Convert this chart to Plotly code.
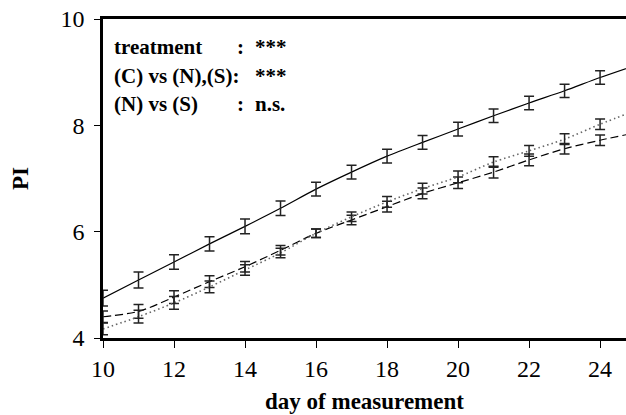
import plotly.graph_objects as go

# ---- data ----
days = [10, 11, 12, 13, 14, 15, 16, 17, 18, 19, 20, 21, 22, 23, 24]
pi_c = [4.75, 5.09, 5.43, 5.77, 6.10, 6.44, 6.80, 7.12, 7.42, 7.68, 7.93, 8.18, 8.42, 8.65, 8.90]
pi_n = [4.40, 4.50, 4.77, 5.06, 5.34, 5.65, 5.97, 6.22, 6.47, 6.72, 6.92, 7.12, 7.35, 7.56, 7.72]
pi_s = [4.17, 4.40, 4.66, 4.96, 5.28, 5.60, 5.97, 6.28, 6.56, 6.81, 7.03, 7.31, 7.52, 7.74, 8.02]
err_c = [0.15, 0.15, 0.135, 0.135, 0.14, 0.135, 0.13, 0.13, 0.13, 0.13, 0.13, 0.125, 0.125, 0.125, 0.125]
err_n = [0.11, 0.13, 0.12, 0.11, 0.10, 0.09, 0.08, 0.09, 0.10, 0.10, 0.11, 0.11, 0.11, 0.10, 0.10]
err_s = [0.11, 0.12, 0.12, 0.11, 0.10, 0.09, 0.08, 0.09, 0.10, 0.10, 0.11, 0.10, 0.10, 0.10, 0.10]
# fitted curves continue past the last measurement day
curve_end_day = 25
curve_end_c = 9.13
curve_end_n = 7.86
curve_end_s = 8.28

x_ticks = [10, 12, 14, 16, 18, 20, 22, 24]
y_ticks = [4, 6, 8, 10]

stats_labels = ["treatment", "(C) vs (N),(S):", "(N) vs (S)"]
stats_colons = [":", "", ":"]
stats_values = ["***", "***", "n.s."]

SERIF = "Liberation Serif, Times New Roman, serif"

fig = go.Figure()

series = [
    (pi_c, err_c, curve_end_c, dict(color="black", width=1.2, dash="solid")),
    (pi_n, err_n, curve_end_n, dict(color="black", width=1.2, dash="8px,4px")),
    (pi_s, err_s, curve_end_s, dict(color="#666666", width=1.6, dash="1.5px,3px")),
]
for vals, errs, end_val, line in series:
    fig.add_trace(go.Scatter(
        x=days + [curve_end_day], y=vals + [end_val], mode="lines",
        line=dict(shape="spline", smoothing=0.8, **line),
        showlegend=False, hoverinfo="skip"))
    fig.add_trace(go.Scatter(
        x=days, y=vals, mode="markers",
        marker=dict(size=1, color="rgba(0,0,0,0)"),
        error_y=dict(type="data", array=errs, visible=True,
                     color="#222222", thickness=1.5, width=5),
        cliponaxis=False, showlegend=False))

# statistics text block
line_y = [0.912, 0.820, 0.735]
for lab, col, val, yy in zip(stats_labels, stats_colons, stats_values, line_y):
    fig.add_annotation(text="<b>" + lab + "</b>", xref="paper", yref="paper",
                       x=0.017, y=yy, xanchor="left", yanchor="middle",
                       showarrow=False, font=dict(family=SERIF, size=21, color="black"))
    if col:
        fig.add_annotation(text="<b>" + col + "</b>", xref="paper", yref="paper",
                           x=0.262, y=yy, xanchor="center", yanchor="middle",
                           showarrow=False, font=dict(family=SERIF, size=21, color="black"))
    fig.add_annotation(text="<b>" + val + "</b>", xref="paper", yref="paper",
                       x=0.287, y=yy, xanchor="left", yanchor="middle",
                       showarrow=False, font=dict(family=SERIF, size=21, color="black"))

fig.update_layout(
    width=626, height=415,
    margin=dict(l=103, r=0, t=19, b=77),
    plot_bgcolor="white", paper_bgcolor="white",
    xaxis=dict(range=[10, 24.73], tickvals=x_ticks, ticks="outside", ticklen=7,
               tickwidth=1.2, tickcolor="black", showgrid=False, zeroline=False,
               showline=True, linewidth=2.5, linecolor="black", mirror=True,
               tickfont=dict(family=SERIF, size=24, color="black"),
               title=dict(text="<b>day of measurement</b>", standoff=13,
                          font=dict(family=SERIF, size=23, color="black"))),
    yaxis=dict(range=[4, 10], tickvals=y_ticks, ticks="outside", ticklen=6,
               tickwidth=1.2, tickcolor="black", showgrid=False, zeroline=False,
               showline=True, linewidth=2.5, linecolor="black",
               ticklabelstandoff=5,
               tickfont=dict(family=SERIF, size=24, color="black"),
               title=dict(text="<b>PI</b>", standoff=26,
                          font=dict(family=SERIF, size=23, color="black"))),
)

fig.write_html("out.html", config={"displayModeBar": False},
               post_script="document.body.style.margin='0';")
